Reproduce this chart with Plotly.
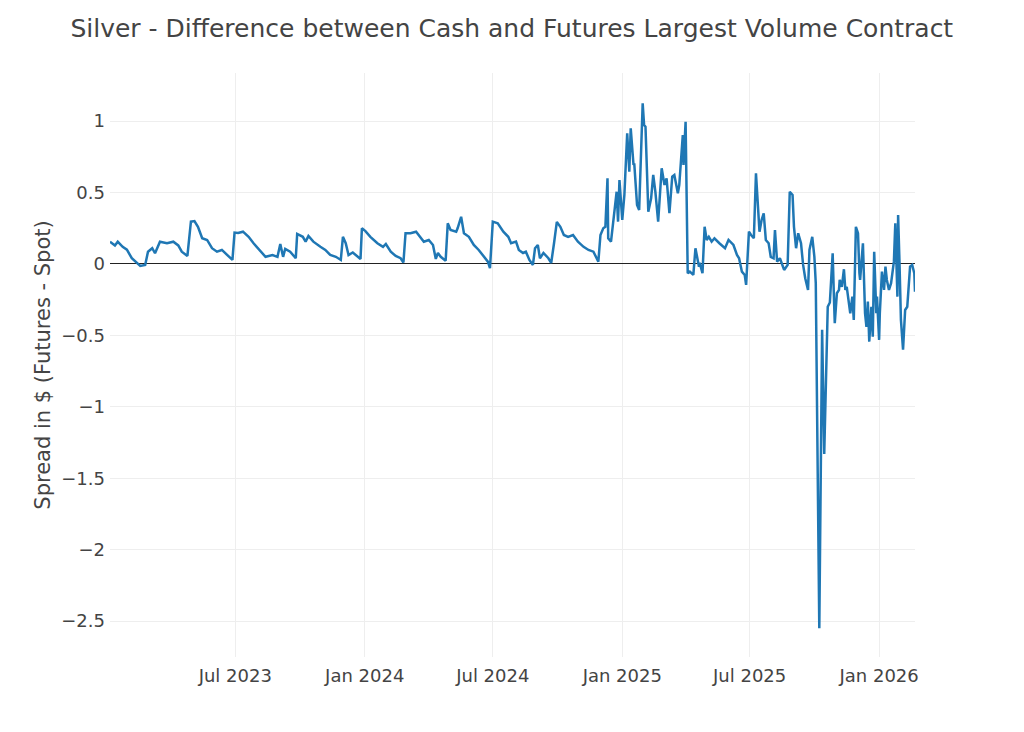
import pandas as pd
import plotly.graph_objects as go

# Spread: days since 2023-01-01 and futures minus spot in $
day_offset = [
    3, 10, 14, 21, 27, 34, 46, 53, 57, 63, 67, 74, 84, 93, 100, 105, 113, 118, 123, 128,
    134, 141, 148, 155, 162, 170, 177, 180, 185, 192, 200, 207, 217, 224, 234, 241, 245, 249, 252, 259,
    267, 269, 277, 281, 285, 292, 302, 309, 316, 324, 331, 334, 338, 342, 348, 355, 359, 361, 366, 373,
    383, 391, 395, 402, 409, 416, 420, 423, 430, 438, 442, 449, 456, 462, 466, 469, 473, 480, 483, 487,
    495, 497, 502, 506, 513, 520, 527, 534, 540, 543, 547, 554, 562, 569, 573, 580, 584, 590, 594, 599,
    604, 607, 611, 614, 619, 626, 630, 634, 638, 643, 648, 654, 661, 668, 676, 683, 690, 697, 700, 704,
    707, 710, 711, 715, 720, 723, 725, 727, 731, 734, 738, 741, 743, 747, 748, 752, 755, 760, 762, 764,
    768, 772, 775, 778, 782, 787, 791, 794, 798, 802, 805, 810, 812, 817, 818, 821, 824, 827, 832, 835,
    840, 841, 845, 848, 851, 854, 858, 862, 869, 877, 882, 889, 894, 897, 901, 905, 907, 911, 914, 918,
    921, 924, 926, 929, 932, 935, 939, 942, 946, 948, 951, 955, 961, 966, 969, 973, 975, 978, 981, 985,
    988, 991, 995, 997, 1001, 1004, 1006, 1011, 1015, 1018, 1023, 1026, 1030, 1032, 1033, 1036, 1039, 1040, 1043, 1046,
    1048, 1050, 1053, 1055, 1058, 1060, 1063, 1066, 1068, 1069, 1073, 1076, 1078, 1080, 1082, 1085, 1087, 1089, 1092, 1093,
    1096, 1097, 1100, 1103, 1105, 1107, 1110, 1113, 1117, 1119, 1122, 1123, 1125, 1127, 1130, 1133, 1136, 1139, 1140, 1143,
    1146, 1147,
]
spread = [
    0.156, 0.13, 0.156, 0.12, 0.10, 0.04, -0.014, -0.007, 0.086, 0.11, 0.075, 0.156, 0.145, 0.156, 0.13, 0.086, 0.056, 0.296, 0.30, 0.26,
    0.18, 0.168, 0.11, 0.086, 0.098, 0.063, 0.028, 0.22, 0.217, 0.226, 0.19, 0.145, 0.086, 0.05, 0.063, 0.05, 0.14, 0.05, 0.105, 0.086,
    0.04, 0.21, 0.19, 0.156, 0.196, 0.156, 0.12, 0.098, 0.063, 0.05, 0.028, 0.19, 0.145, 0.063, 0.08, 0.05, 0.035, 0.25, 0.23, 0.19,
    0.145, 0.12, 0.14, 0.086, 0.056, 0.04, 0.01, 0.215, 0.215, 0.226, 0.203, 0.156, 0.168, 0.133, 0.035, 0.077, 0.05, 0.023, 0.285, 0.238,
    0.226, 0.25, 0.33, 0.215, 0.19, 0.133, 0.098, 0.05, 0.016, -0.03, 0.296, 0.285, 0.226, 0.19, 0.145, 0.156, 0.098, 0.077, 0.086, 0.028,
    -0.007, 0.11, 0.133, 0.04, 0.077, 0.04, 0.007, 0.145, 0.294, 0.26, 0.203, 0.19, 0.203, 0.156, 0.12, 0.098, 0.086, 0.016, 0.203, 0.25,
    0.26, 0.60, 0.18, 0.156, 0.366, 0.506, 0.296, 0.588, 0.308, 0.483, 0.915, 0.646, 0.95, 0.693, 0.705, 0.413, 0.378, 1.125, 0.973, 0.961,
    0.366, 0.46, 0.623, 0.506, 0.296, 0.67, 0.553, 0.60, 0.355, 0.611, 0.623, 0.495, 0.553, 0.903, 0.693, 0.996, -0.065, -0.054, -0.077, 0.11,
    -0.019, 0.007, -0.065, 0.26, 0.168, 0.19, 0.156, 0.18, 0.145, 0.11, 0.168, 0.133, 0.063, 0.04, -0.054, -0.077, -0.147, 0.226, 0.203, 0.18,
    0.635, 0.39, 0.226, 0.308, 0.355, 0.168, 0.145, 0.05, 0.04, 0.238, 0.016, 0.04, -0.042, -0.007, 0.506, 0.483, 0.26, 0.11, 0.215, 0.145,
    -0.007, -0.10, -0.182, 0.098, 0.19, 0.05, -0.135, -2.55, -0.46, -1.33, -0.3, -0.27, 0.075, -0.27, -0.415, -0.205, -0.182, -0.112, -0.16, -0.037,
    -0.182, -0.16, -0.252, -0.345, -0.229, -0.392, 0.26, 0.215, -0.065, -0.112, 0.145, -0.345, -0.44, -0.264, -0.544, -0.30, -0.509, 0.086, -0.345, -0.229,
    -0.532, -0.345, -0.054, -0.182, -0.019, -0.112, -0.182, -0.135, 0.016, 0.285, -0.229, 0.343, 0.005, -0.392, -0.60, -0.322, -0.30, -0.112, -0.019, -0.007,
    -0.065, -0.194,
]

dates = pd.Timestamp("2023-01-01") + pd.to_timedelta(day_offset, unit="D")

fig = go.Figure()
fig.add_scatter(x=dates, y=spread, mode="lines", line=dict(color="#1f77b4", width=2.5))

# page body adds an 8px offset, margins are trimmed to compensate
fig.update_layout(
    width=1024, height=732,
    title=dict(text="Silver - Difference between Cash and Futures Largest Volume Contract",
               x=0.492, xanchor="center", y=0.973, yanchor="middle",
               font=dict(size=25, color="#444")),
    font=dict(family="DejaVu Sans", size=18, color="#444"),
    plot_bgcolor="white", paper_bgcolor="white",
    margin=dict(l=102, r=117, t=65, b=83),
    showlegend=False,
)
fig.update_xaxes(tickformat="%b %Y", dtick="M6", tick0="2023-07-01", ticklabelstandoff=6,
                 showgrid=True, gridcolor="#eeeeee", zeroline=False, showline=False)
fig.update_yaxes(title=dict(text="Spread in $ (Futures - Spot)", font=dict(size=21), standoff=4),
                 range=[-2.752, 1.337], dtick=0.5, ticklabelstandoff=4,
                 showgrid=True, gridcolor="#eeeeee",
                 zeroline=True, zerolinecolor="#222", zerolinewidth=1.2, showline=False)

fig.write_html("out.html")
